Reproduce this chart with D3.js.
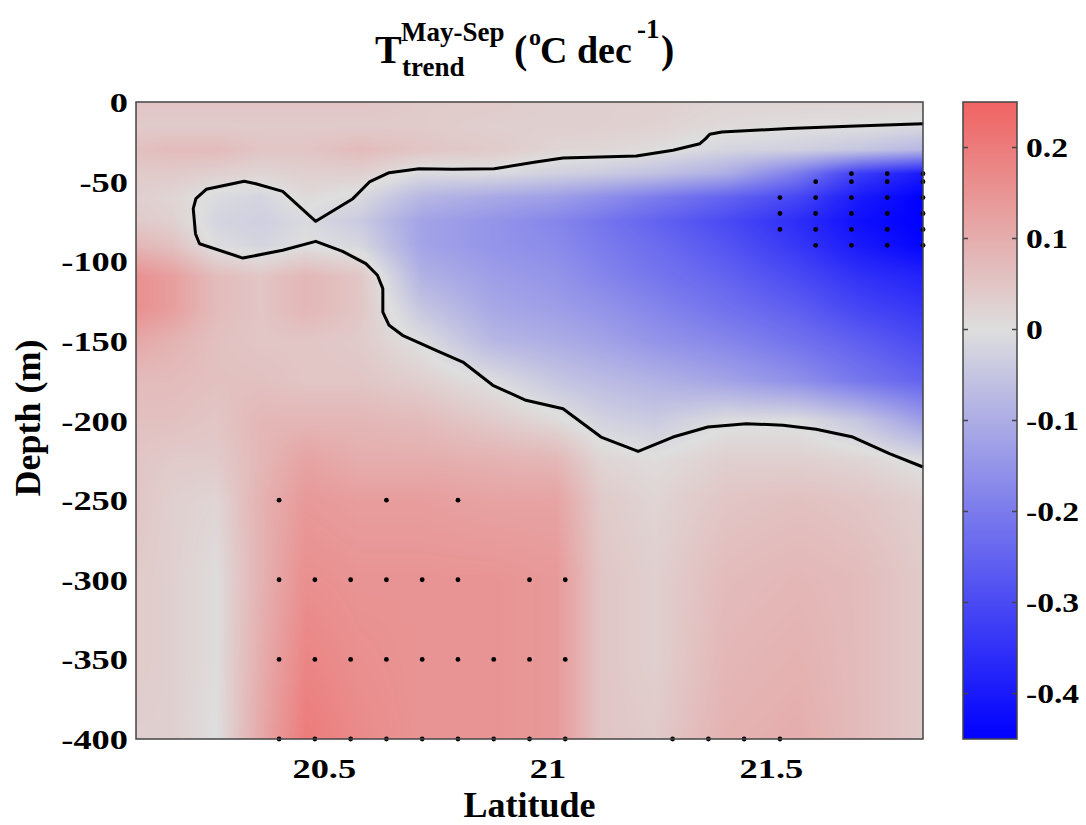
<!DOCTYPE html>
<html>
<head>
<meta charset="utf-8">
<script src="https://cdn.jsdelivr.net/npm/d3@7/dist/d3.min.js"></script>
<style>
  body { margin: 0; background: #fff; }
  svg text { font-family: "Liberation Serif", "Times New Roman", serif; font-weight: bold; fill: #000; }
</style>
</head>
<body>
<svg id="chart" width="1086" height="825"></svg>
<script>
// Grid of the trend field (degC per decade), rows = depths, columns = latitudes
const latitudes = [20.08, 20.16, 20.26, 20.36, 20.46, 20.58, 20.72, 20.88, 21.02, 21.12, 21.24, 21.40, 21.56, 21.70, 21.84];
const depths = [0, 15, 30, 45, 60, 75, 90, 110, 130, 150, 175, 200, 225, 250, 300, 350, 400];
const trend = [
  [0.05, 0.05, 0.05, 0.05, 0.05, 0.05, 0.04, 0.04, 0.03, 0.03, 0.03, 0.02, 0.02, 0.02, 0.02],
  [0.04, 0.04, 0.04, 0.04, 0.04, 0.04, 0.04, 0.03, 0.03, 0.03, 0.025, 0.01, 0.003, 0.0, -0.01],
  [0.06, 0.07, 0.07, 0.05, 0.05, 0.07, 0.05, 0.04, 0.02, 0.015, 0.005, -0.02, -0.03, -0.05, -0.08],
  [0.04, 0.04, 0.03, 0.02, 0.03, 0.03, -0.01, -0.01, -0.03, -0.04, -0.06, -0.1, -0.2, -0.33, -0.4],
  [0.03, 0.02, -0.01, -0.02, 0.01, -0.01, -0.08, -0.11, -0.13, -0.16, -0.2, -0.25, -0.31, -0.4, -0.45],
  [0.04, 0.03, -0.02, -0.03, -0.01, -0.04, -0.12, -0.15, -0.18, -0.21, -0.25, -0.3, -0.36, -0.42, -0.45],
  [0.08, 0.06, -0.005, -0.02, 0.0, -0.015, -0.12, -0.15, -0.17, -0.2, -0.23, -0.28, -0.34, -0.4, -0.44],
  [0.16, 0.13, 0.07, 0.05, 0.08, 0.05, -0.09, -0.13, -0.15, -0.18, -0.21, -0.25, -0.3, -0.35, -0.38],
  [0.16, 0.13, 0.07, 0.05, 0.08, 0.05, -0.05, -0.11, -0.13, -0.15, -0.18, -0.22, -0.26, -0.31, -0.34],
  [0.11, 0.09, 0.06, 0.05, 0.05, 0.04, -0.005, -0.08, -0.1, -0.12, -0.15, -0.18, -0.22, -0.26, -0.3],
  [0.07, 0.07, 0.06, 0.06, 0.05, 0.05, 0.03, -0.005, -0.05, -0.07, -0.09, -0.12, -0.16, -0.21, -0.25],
  [0.06, 0.06, 0.05, 0.08, 0.08, 0.08, 0.07, 0.04, 0.01, -0.025, -0.04, -0.005, -0.005, -0.05, -0.13],
  [0.05, 0.04, 0.04, 0.08, 0.12, 0.1, 0.1, 0.09, 0.08, 0.02, 0.005, 0.03, 0.03, 0.02, -0.005],
  [0.05, 0.03, 0.02, 0.09, 0.14, 0.13, 0.13, 0.12, 0.12, 0.04, 0.02, 0.05, 0.06, 0.05, 0.03],
  [0.04, 0.03, 0.005, 0.09, 0.16, 0.15, 0.15, 0.15, 0.14, 0.05, 0.03, 0.07, 0.08, 0.07, 0.04],
  [0.04, 0.03, 0.005, 0.1, 0.18, 0.16, 0.15, 0.15, 0.14, 0.05, 0.03, 0.08, 0.09, 0.07, 0.04],
  [0.03, 0.03, 0.0, 0.11, 0.2, 0.17, 0.15, 0.15, 0.14, 0.05, 0.04, 0.09, 0.1, 0.07, 0.04]
];

// Zero contour, [latitude, depth]
const zeroContour = [
  [21.84, 13.6], [21.69, 15.1], [21.54, 16.7], [21.39, 18.8], [21.363, 20.3], [21.354, 23.0],
  [21.341, 26.2], [21.281, 30.3], [21.199, 33.9], [21.035, 35.2], [20.974, 37.7], [20.881, 41.9],
  [20.788, 42.3], [20.713, 41.9], [20.646, 44.4], [20.602, 50.2], [20.565, 60.7], [20.482, 74.9],
  [20.408, 56.1], [20.348, 51.3], [20.322, 49.8], [20.237, 54.8], [20.214, 60.7], [20.208, 67],
  [20.213, 82.7], [20.222, 89], [20.319, 98], [20.408, 93.1], [20.482, 87.5], [20.542, 93.8],
  [20.594, 101.5], [20.62, 108.8], [20.632, 117.2], [20.632, 131.9], [20.646, 140.2], [20.676, 146.5],
  [20.751, 155.9], [20.811, 163.3], [20.878, 177.9], [20.952, 187.3], [21.035, 192.6], [21.12, 210.4],
  [21.203, 219.4], [21.281, 210.4], [21.359, 204.1], [21.445, 202], [21.527, 203], [21.601, 205.5],
  [21.683, 210.4], [21.765, 220.8], [21.84, 229.2]
];

// Significant grid points (stippling)
const sigDots = [
  { depth: 45, lats: [21.68, 21.76, 21.84] },
  { depth: 50, lats: [21.60, 21.68, 21.76, 21.84] },
  { depth: 60, lats: [21.52, 21.60, 21.68, 21.76, 21.84] },
  { depth: 70, lats: [21.52, 21.60, 21.68, 21.76, 21.84] },
  { depth: 80, lats: [21.52, 21.60, 21.68, 21.76, 21.84] },
  { depth: 90, lats: [21.60, 21.68, 21.76, 21.84] },
  { depth: 250, lats: [20.40, 20.64, 20.80] },
  { depth: 300, lats: [20.40, 20.48, 20.56, 20.64, 20.72, 20.80, 20.96, 21.04] },
  { depth: 350, lats: [20.40, 20.48, 20.56, 20.64, 20.72, 20.80, 20.88, 20.96, 21.04] },
  { depth: 400, lats: [20.40, 20.48, 20.56, 20.64, 20.72, 20.80, 20.88, 20.96, 21.04, 21.28, 21.36, 21.44, 21.52] }
];

const xTicks = [20.5, 21, 21.5];
const yTicks = [0, -50, -100, -150, -200, -250, -300, -350, -400];
const cTicks = [0.2, 0.1, 0, -0.1, -0.2, -0.3, -0.4];

const plotLeft = 136, plotTop = 102, plotW = 787, plotH = 637;
const barLeft = 963, barW = 54;
const BORDER = "#444";
const STRETCH = 1.3;   // tick labels in the figure are drawn wide

const svg = d3.select("#chart");

const x = d3.scaleLinear().domain([20.08, 21.84]).range([0, plotW]);
const y = d3.scaleLinear().domain([0, -400]).range([0, plotH]);
const color = d3.scaleLinear()
  .domain([-0.45, 0, 0.45])
  .range(["#0000ff", "#dedede", "#ff0000"])
  .clamp(true);

function sample(lat, depth) {
  const n = latitudes.length, m = depths.length;
  const i = Math.max(0, Math.min(n - 2, d3.bisectRight(latitudes, lat) - 1));
  const j = Math.max(0, Math.min(m - 2, d3.bisectRight(depths, depth) - 1));
  const tx = Math.max(0, Math.min(1, (lat - latitudes[i]) / (latitudes[i + 1] - latitudes[i])));
  const ty = Math.max(0, Math.min(1, (depth - depths[j]) / (depths[j + 1] - depths[j])));
  const a = trend[j][i], b = trend[j][i + 1], c = trend[j + 1][i], d = trend[j + 1][i + 1];
  return (a * (1 - tx) + b * tx) * (1 - ty) + (c * (1 - tx) + d * tx) * ty;
}

// shaded field, drawn to a canvas and put into the svg as an image
const canvas = document.createElement("canvas");
canvas.width = plotW;
canvas.height = plotH;
const ctx = canvas.getContext("2d");
const img = ctx.createImageData(plotW, plotH);
const lut = d3.range(0, 901).map(k => d3.rgb(color(-0.45 + k * 0.001)));
for (let py = 0; py < plotH; py++) {
  const depth = -y.invert(py + 0.5);
  for (let px = 0; px < plotW; px++) {
    const v = sample(x.invert(px + 0.5), depth);
    const k = Math.max(0, Math.min(900, Math.round((v + 0.45) * 1000)));
    const c = lut[k];
    const o = (py * plotW + px) * 4;
    img.data[o] = c.r; img.data[o + 1] = c.g; img.data[o + 2] = c.b; img.data[o + 3] = 255;
  }
}
ctx.putImageData(img, 0, 0);

const plot = svg.append("g").attr("transform", `translate(${plotLeft},${plotTop})`);

plot.append("image")
  .attr("href", canvas.toDataURL())
  .attr("width", plotW)
  .attr("height", plotH)
  .attr("preserveAspectRatio", "none");

const line = d3.line().x(d => x(d[0])).y(d => y(-d[1]));
plot.append("path")
  .datum(zeroContour)
  .attr("d", line)
  .attr("fill", "none")
  .attr("stroke", "#000")
  .attr("stroke-width", 3)
  .attr("stroke-linejoin", "round");

const dots = sigDots.flatMap(r => r.lats.map(lat => ({ lat, depth: r.depth })));
plot.selectAll(".dot")
  .data(dots)
  .enter()
  .append("circle")
  .attr("class", "dot")
  .attr("cx", d => x(d.lat))
  .attr("cy", d => y(-d.depth))
  .attr("r", 2.4)
  .attr("fill", "#000");

plot.append("rect")
  .attr("width", plotW)
  .attr("height", plotH)
  .attr("fill", "none")
  .attr("stroke", BORDER)
  .attr("stroke-width", 1.5);

// axes: no tick marks, just labels
const yAxis = plot.append("g")
  .call(d3.axisLeft(y).tickValues(yTicks).tickSize(0).tickPadding(8).tickFormat(d => String(d)));
yAxis.select(".domain").remove();
yAxis.selectAll("text")
  .style("font-size", "28px")
  .attr("x", -8 / STRETCH)
  .attr("dy", "0.34em")
  .attr("transform", `scale(${STRETCH},1)`);

const xAxis = plot.append("g")
  .attr("transform", `translate(0,${plotH})`)
  .call(d3.axisBottom(x).tickValues(xTicks).tickSize(0).tickPadding(19).tickFormat(d => String(d)));
xAxis.select(".domain").remove();
xAxis.selectAll("text")
  .style("font-size", "28px")
  .attr("transform", `scale(${STRETCH},1)`);

svg.append("text")
  .attr("x", plotLeft + plotW / 2)
  .attr("y", 817)
  .attr("text-anchor", "middle")
  .style("font-size", "36px")
  .text("Latitude");

svg.append("text")
  .attr("transform", "translate(40,418) rotate(-90)")
  .attr("text-anchor", "middle")
  .style("font-size", "36px")
  .text("Depth (m)");

// title
svg.append("text").attr("x", 375).attr("y", 63).style("font-size", "40px").text("T");
svg.append("text").attr("x", 401).attr("y", 41).style("font-size", "27px").text("May-Sep");
svg.append("text").attr("x", 402).attr("y", 76).style("font-size", "27px").text("trend");
svg.append("text").attr("x", 514).attr("y", 63).style("font-size", "40px").text("(");
svg.append("text").attr("x", 529).attr("y", 45).style("font-size", "24px").text("o");
svg.append("text").attr("x", 540).attr("y", 63).style("font-size", "38px").text("C dec");
svg.append("text").attr("x", 637).attr("y", 38).style("font-size", "27px").text("-1");
svg.append("text").attr("x", 661).attr("y", 63).style("font-size", "40px").text(")");

// colorbar
const cScale = d3.scaleLinear().domain([0.25, -0.45]).range([0, plotH]);
const grad = svg.append("defs").append("linearGradient")
  .attr("id", "cbar")
  .attr("x1", 0).attr("y1", 0).attr("x2", 0).attr("y2", 1);
grad.selectAll("stop")
  .data(d3.range(0.25, -0.451, -0.01))
  .enter()
  .append("stop")
  .attr("offset", d => cScale(d) / plotH)
  .attr("stop-color", d => color(d));

const bar = svg.append("g").attr("transform", `translate(${barLeft},${plotTop})`);
bar.append("rect")
  .attr("width", barW)
  .attr("height", plotH)
  .attr("fill", "url(#cbar)")
  .attr("stroke", BORDER)
  .attr("stroke-width", 1.5);

bar.selectAll(".tl")
  .data(cTicks)
  .enter()
  .append("path")
  .attr("d", d => `M0,${cScale(d)}h5M${barW - 5},${cScale(d)}h5`)
  .attr("stroke", BORDER)
  .attr("stroke-width", 1.5);

bar.selectAll(".cl")
  .data(cTicks)
  .enter()
  .append("text")
  .attr("x", (barW + 9) / 1.2)
  .attr("y", d => cScale(d))
  .attr("dy", "0.34em")
  .attr("transform", "scale(1.2,1)")
  .style("font-size", "28px")
  .text(d => String(d));
</script>
</body>
</html>
